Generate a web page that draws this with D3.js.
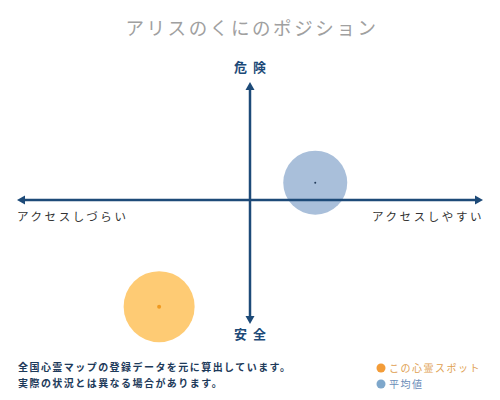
<!DOCTYPE html>
<html><head><meta charset="utf-8">
<script src="https://cdn.jsdelivr.net/npm/d3@7"></script>
<style>
html,body{margin:0;padding:0;background:#fff;}
svg{display:block;font-family:"Noto Sans CJK JP","Noto Sans",sans-serif;}
</style></head><body>
<svg id="c" width="500" height="400"></svg>
<script>
const title = "アリスのくにのポジション";
const axisLabels = {top:"危険", bottom:"安全", left:"アクセスしづらい", right:"アクセスしやすい"};
const seriesNames = ["この心霊スポット","平均値"];
const seriesX = [-3.9, 2.8];
const seriesY = [-8.6, 1.4];
const seriesR = [35.5, 32];
const seriesColors = ["#fecb74","#a9bfda"];
const dotColors = ["#f09a20","#223b5a"];
const legendColors = ["#f39c38","#7ea7cb"];
const notes = ["全国心霊マップの登録データを元に算出しています。","実際の状況とは異なる場合があります。"];

(function(){
const svg = d3.select("#c");
const x = d3.scaleLinear().domain([-10,10]).range([17,483]);
const y = d3.scaleLinear().domain([-10,10]).range([324,76]);
const navy = "#1d4a78";

svg.append("text").attr("x",252).attr("y",35).attr("text-anchor","middle")
  .attr("font-size",18.5).attr("letter-spacing",2.6).attr("fill","#a0a0a0").text(title);

svg.selectAll("circle.s").data(seriesNames).join("circle").attr("class","s")
  .attr("cx",(d,i)=>x(seriesX[i])).attr("cy",(d,i)=>y(seriesY[i]))
  .attr("r",(d,i)=>seriesR[i]).attr("fill",(d,i)=>seriesColors[i]);

const cx = x(0), cy = y(0);
const yTop = 82, yBot = 324;
svg.append("line").attr("x1",x(-10)+5).attr("x2",x(10)-5).attr("y1",cy).attr("y2",cy)
  .attr("stroke",navy).attr("stroke-width",2.5);
svg.append("line").attr("x1",cx).attr("x2",cx).attr("y1",yTop+5).attr("y2",yBot-5)
  .attr("stroke",navy).attr("stroke-width",2.5);
const a = 8, w = 4.5;
svg.append("path").attr("fill",navy).attr("d",`M${x(-10)},${cy} l${a},${-w} l0,${2*w} Z`);
svg.append("path").attr("fill",navy).attr("d",`M${x(10)},${cy} l${-a},${-w} l0,${2*w} Z`);
svg.append("path").attr("fill",navy).attr("d",`M${cx},${yTop} l${-w},${a} l${2*w},0 Z`);
svg.append("path").attr("fill",navy).attr("d",`M${cx},${yBot} l${-w},${-a} l${2*w},0 Z`);

svg.selectAll("circle.d").data(seriesNames).join("circle").attr("class","d")
  .attr("cx",(d,i)=>x(seriesX[i])).attr("cy",(d,i)=>y(seriesY[i]))
  .attr("r",(d,i)=>i===0?2:1).attr("fill",(d,i)=>dotColors[i]);

svg.append("text").attr("x",cx+3).attr("y",72).attr("text-anchor","middle")
  .attr("font-size",13).attr("font-weight","bold").attr("letter-spacing",6).attr("fill",navy).text(axisLabels.top);
svg.append("text").attr("x",cx+3).attr("y",339).attr("text-anchor","middle")
  .attr("font-size",13).attr("font-weight","bold").attr("letter-spacing",6).attr("fill",navy).text(axisLabels.bottom);
svg.append("text").attr("x",17).attr("y",221).attr("font-size",11.5)
  .attr("letter-spacing",2.6).attr("fill","#333").text(axisLabels.left);
svg.append("text").attr("x",372).attr("y",221).attr("font-size",11.5)
  .attr("letter-spacing",2.6).attr("fill","#333").text(axisLabels.right);

svg.selectAll("text.n").data(notes).join("text").attr("class","n")
  .attr("x",18).attr("y",(d,i)=>371+i*16).attr("font-size",10).attr("font-weight","bold")
  .attr("letter-spacing",1.45).attr("fill","#1d3a5a").text(d=>d);

const lg = svg.selectAll("g.l").data(seriesNames).join("g").attr("class","l")
  .attr("transform",(d,i)=>`translate(381,${368+i*16})`);
lg.append("circle").attr("r",4.5).attr("fill",(d,i)=>legendColors[i]);
lg.append("text").attr("x",8).attr("y",4).attr("font-size",10).attr("letter-spacing",1.5)
  .attr("fill",(d,i)=>i===0?"#e0a050":"#6a8db8").text(d=>d);
})();
</script>
</body></html>
